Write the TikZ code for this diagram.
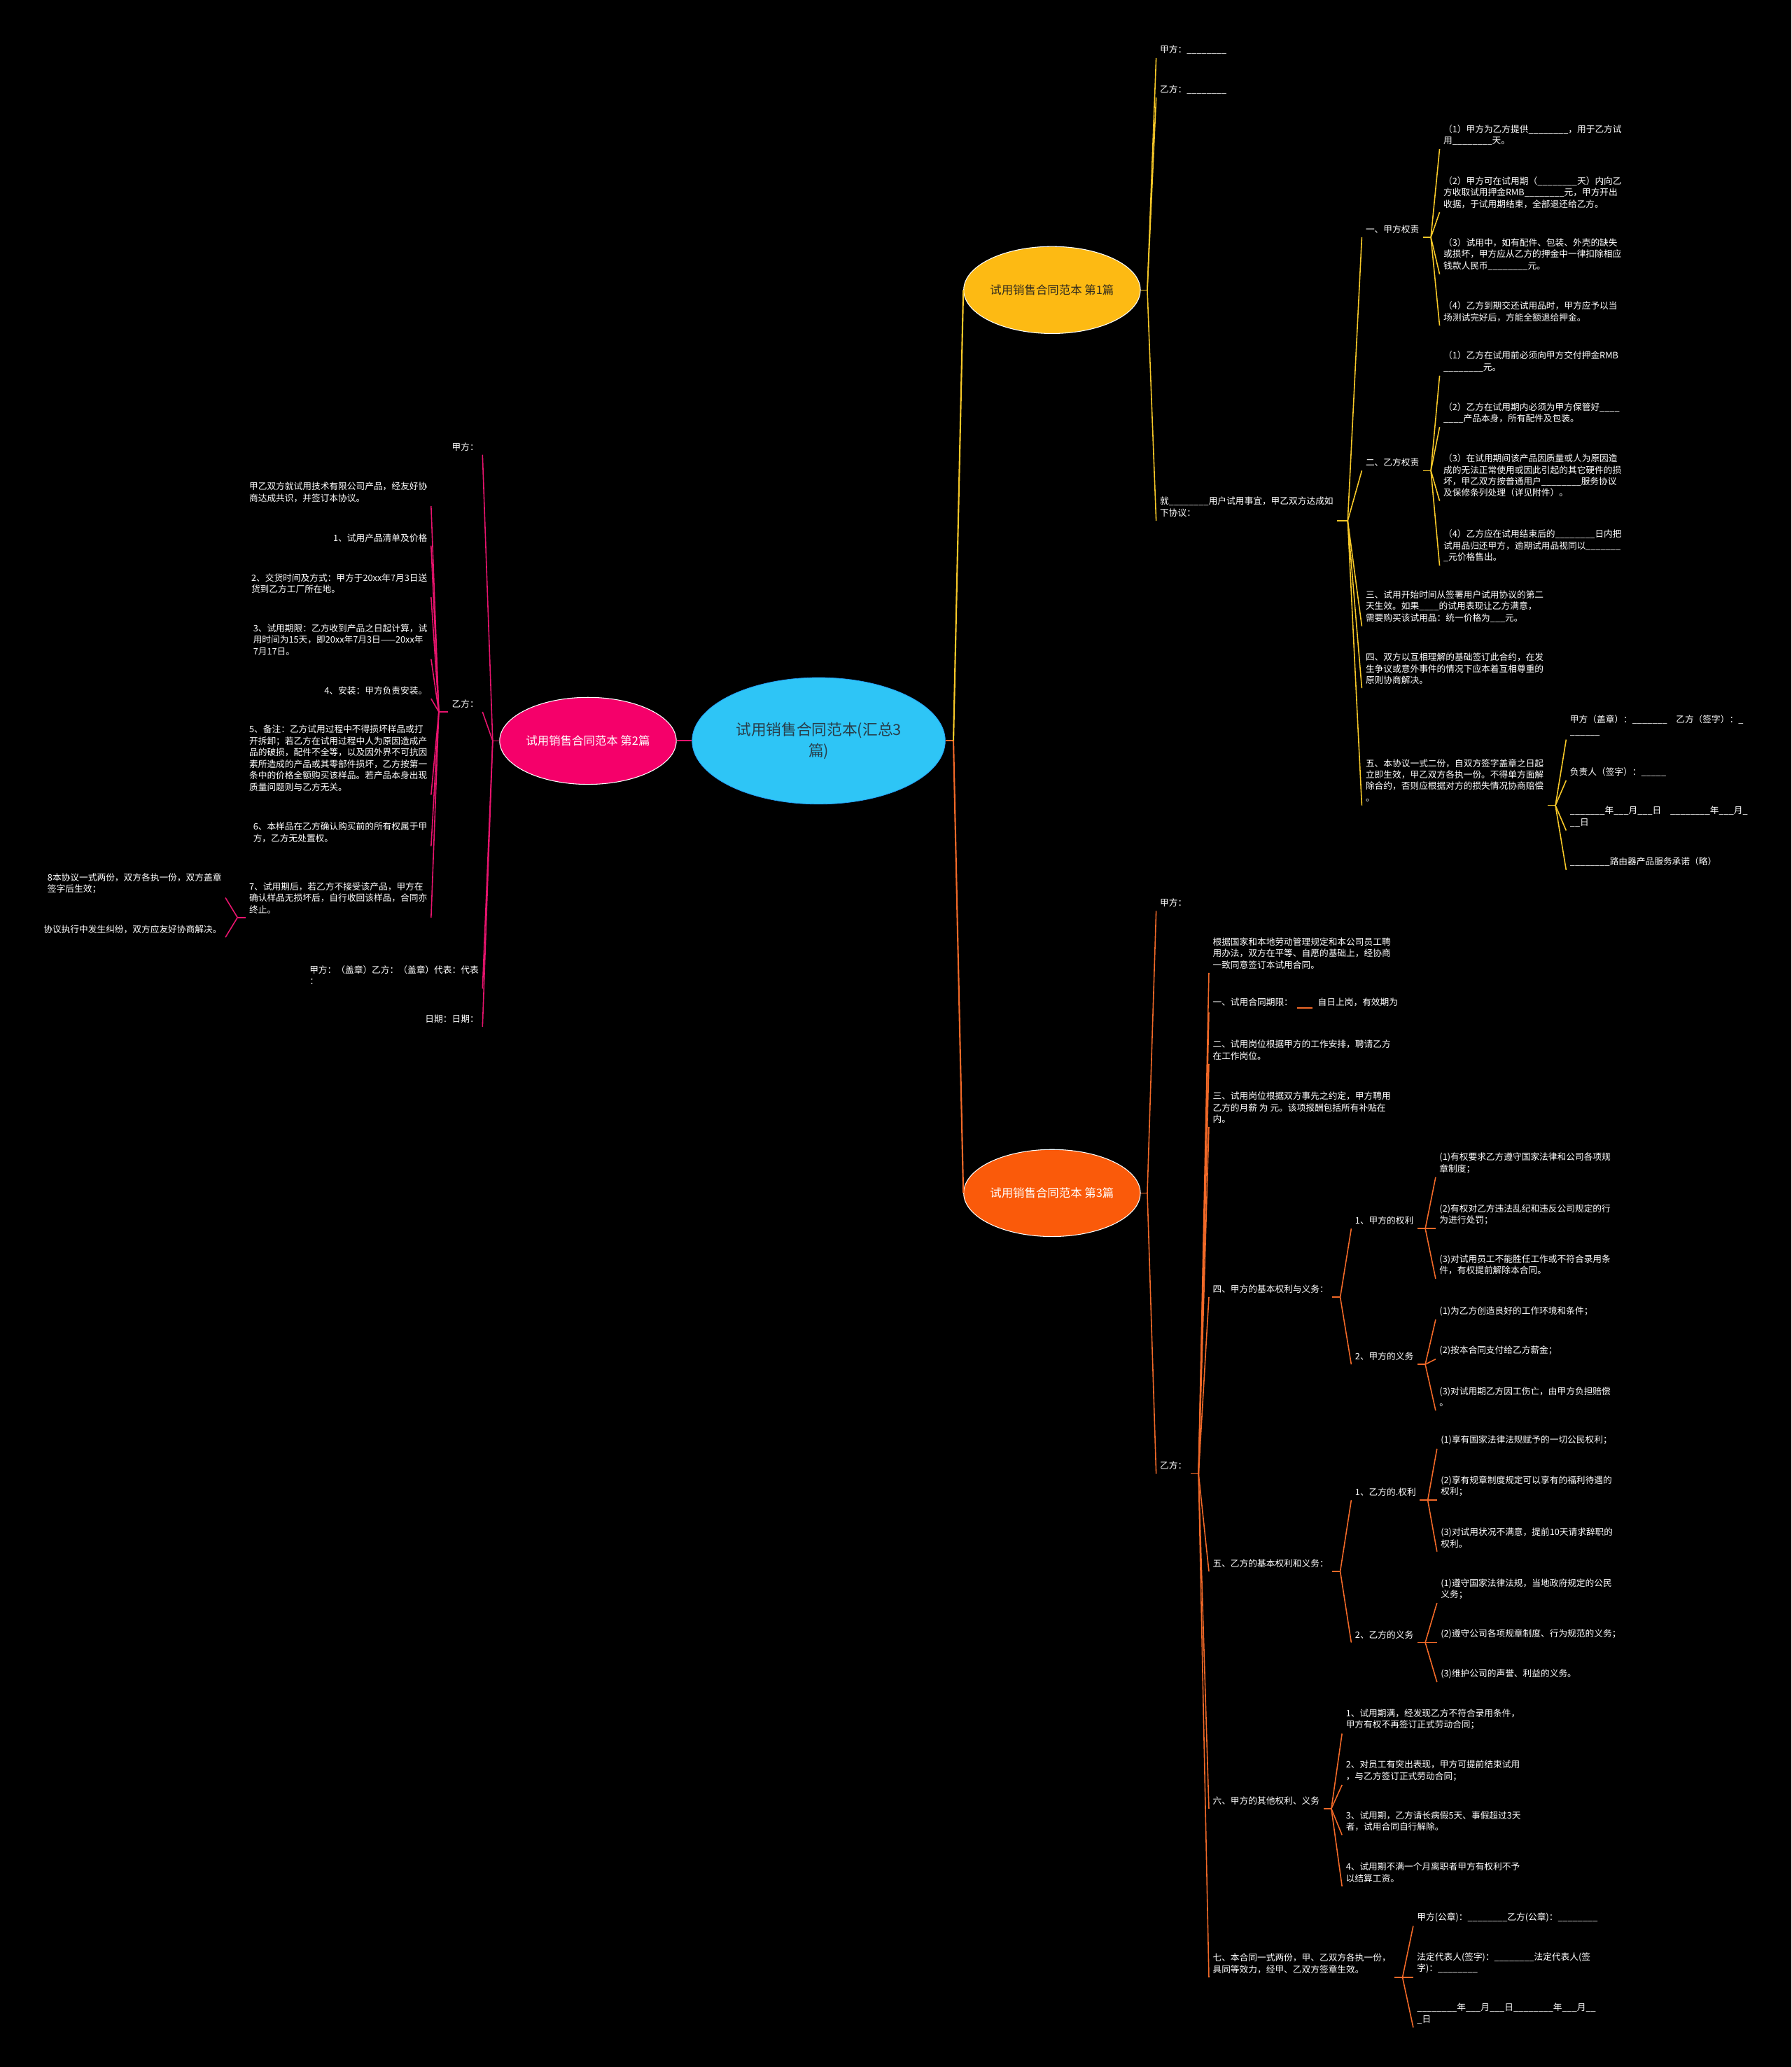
\documentclass[tikz,border=0pt]{standalone}
\usepackage{fontspec}
\setmainfont{Noto Sans CJK SC}
\usepackage{xcolor}
\usetikzlibrary{shapes.geometric, positioning}

\definecolor{RootBlue}{RGB}{46,197,246}
\definecolor{RootText}{RGB}{40,62,74}
\definecolor{BrYellow}{RGB}{253,186,19}
\definecolor{BrPink}{RGB}{245,0,106}
\definecolor{BrOrange}{RGB}{250,90,10}
\definecolor{LnYellow}{RGB}{247,200,40}
\definecolor{LnPink}{RGB}{232,20,110}
\definecolor{LnOrange}{RGB}{242,105,40}
\definecolor{TopicDark}{RGB}{50,44,30}

\newcommand{\blk}[1]{\foreach \k in {1,...,#1}{\_}}

\tikzset{
  leaf/.style={text=white, font=\fontsize{9.6}{12.4}\selectfont, align=left,
               inner xsep=4pt, inner ysep=4pt},
  leafR/.style={leaf, anchor=south west},
  leafL/.style={leaf, anchor=south east},
  topic/.style={ellipse, minimum width=6.7cm, minimum height=3.3cm, draw=white!85,
                line width=0.8pt, font=\fontsize{12.4}{15}\selectfont, align=center, inner sep=0pt},
  root/.style={ellipse, minimum width=9.6cm, minimum height=4.8cm, fill=RootBlue,
               draw=RootBlue!80!blue, line width=0.6pt, text=RootText,
               font=\fontsize{16.4}{22.7}\selectfont, align=center, inner sep=0pt},
  lnY/.style={draw=LnYellow, line width=1.2pt},
  lnP/.style={draw=LnPink, line width=1.2pt},
  lnO/.style={draw=LnOrange, line width=1.2pt}
}

\begin{document}
\begin{tikzpicture}[x=0.05cm, y=-0.05cm]
  \useasboundingbox (0,0) rectangle (1359,1568);
  \fill[black] (0,0) rectangle (1359,1568);

  % centre and the three contracts
  \node[root] (root) at (621,562) {试用销售合同范本(汇总3\\篇)};
  \node[topic, fill=BrYellow, text=TopicDark] (br1) at (798,220) {试用销售合同范本 第1篇};
  \node[topic, fill=BrPink, text=white] (br2) at (446,562) {试用销售合同范本 第2篇};
  \node[topic, fill=BrOrange, text=white] (br3) at (798,905) {试用销售合同范本 第3篇};

  \draw[lnP, line width=1.6pt] (root.west) -- (br2.east);
  \draw[lnO, line width=1.6pt] (root.east) -- ++(6,0) coordinate (rootf);
  \draw[lnY, line width=1.6pt] (rootf) -- (br1.west);
  \draw[lnO, line width=1.6pt] (rootf) -- (br3.west);

  % --- 第1篇
  \node[leafR] (a1) at (877,44) {甲方：\blk{8}};
  \node[leafR] (a2) at (877,74) {乙方：\blk{8}};
  \node[leafR] (a3) at (877,395) {就\blk{8}用户试用事宜，甲乙双方达成如\\下协议：};

  \node[leafR] (b1) at (1033,180) {一、甲方权责};
  \node[leafR] (c1) at (1092,113) {（1）甲方为乙方提供\blk{8}，用于乙方试\\用\blk{8}天。};
  \node[leafR] (c2) at (1092,161) {（2）甲方可在试用期（\blk{8}天）内向乙\\方收取试用押金RMB\blk{8}元，甲方开出\\收据，于试用期结束，全部退还给乙方。};
  \node[leafR] (c3) at (1092,208) {（3）试用中，如有配件、包装、外壳的缺失\\或损坏，甲方应从乙方的押金中一律扣除相应\\钱款人民币\blk{8}元。};
  \node[leafR] (c4) at (1092,247) {（4）乙方到期交还试用品时，甲方应予以当\\场测试完好后，方能全额退给押金。};

  \node[leafR] (b2) at (1033,357) {二、乙方权责};
  \node[leafR] (d1) at (1092,285) {（1）乙方在试用前必须向甲方交付押金RMB\\\blk{8}元。};
  \node[leafR] (d2) at (1092,324) {（2）乙方在试用期内必须为甲方保管好\blk{4}\\\blk{4}产品本身，所有配件及包装。};
  \node[leafR] (d3) at (1092,380) {（3）在试用期间该产品因质量或人为原因造\\成的无法正常使用或因此引起的其它硬件的损\\坏，甲乙双方按普通用户\blk{8}服务协议\\及保修条列处理（详见附件）。};
  \node[leafR] (d4) at (1092,429) {（4）乙方应在试用结束后的\blk{8}日内把\\试用品归还甲方，逾期试用品视同以\blk{7}\\\blk{1}元价格售出。};

  \node[leafR] (b3) at (1033,475) {三、试用开始时间从签署用户试用协议的第二\\天生效。如果\blk{4}的试用表现让乙方满意，\\需要购买该试用品：统一价格为\blk{3}元。};
  \node[leafR] (b4) at (1033,522) {四、双方以互相理解的基础签订此合约，在发\\生争议或意外事件的情况下应本着互相尊重的\\原则协商解决。};
  \node[leafR] (b5) at (1033,611) {五、本协议一式二份，自双方签字盖章之日起\\立即生效，甲乙双方各执一份。不得单方面解\\除合约，否则应根据对方的损失情况协商赔偿\\。};
  \node[leafR] (e1) at (1188,561) {甲方（盖章）：\blk{7}\quad 乙方（签字）：\blk{1}\\\blk{6}};
  \node[leafR] (e2) at (1188,592) {负责人（签字）：\blk{5}};
  \node[leafR] (e3) at (1188,630) {\blk{7}年\blk{3}月\blk{3}日\quad\blk{8}年\blk{3}月\blk{1}\\\blk{2}日};
  \node[leafR] (e4) at (1188,660) {\blk{8}路由器产品服务承诺（略）};

  \draw[lnY] (br1.east) -- ++(5,0) coordinate (br1f);
  \foreach \n in {a1,a2,a3} \draw[lnY] (br1f) -- (\n.south west);
  \draw[lnY] (a3.south east) -- ++(8,0) coordinate (a3f);
  \foreach \n in {b1,b2,b3,b4,b5} \draw[lnY] (a3f) -- (\n.south west);
  \draw[lnY] (b1.south east) -- ++(6,0) coordinate (b1f);
  \foreach \n in {c1,c2,c3,c4} \draw[lnY] (b1f) -- (\n.south west);
  \draw[lnY] (b2.south east) -- ++(6,0) coordinate (b2f);
  \foreach \n in {d1,d2,d3,d4} \draw[lnY] (b2f) -- (\n.south west);
  \draw[lnY] (b5.south east) -- ++(6,0) coordinate (b5f);
  \foreach \n in {e1,e2,e3,e4} \draw[lnY] (b5f) -- (\n.south west);

  % --- 第2篇
  \node[leafL] (p1) at (366,345) {甲方：};
  \node[leafL] (p2) at (366,540) {乙方：};
  \node[leafL] (p3) at (366,750) {甲方：（盖章）乙方：（盖章）代表：代表\\：};
  \node[leafL] (p4) at (366,779) {日期：日期：};

  \node[leafL] (q1) at (327,384) {甲乙双方就试用技术有限公司产品，经友好协\\商达成共识，并签订本协议。};
  \node[leafL] (q2) at (327,414) {1、试用产品清单及价格};
  \node[leafL] (q3) at (327,453) {2、交货时间及方式：甲方于20xx年7月3日送\\货到乙方工厂所在地。};
  \node[leafL] (q4) at (327,500) {3、试用期限：乙方收到产品之日起计算，试\\用时间为15天，即20xx年7月3日——20xx年\\7月17日。};
  \node[leafL] (q5) at (327,530) {4、安装：甲方负责安装。};
  \node[leafL] (q6) at (327,603) {5、备注：乙方试用过程中不得损坏样品或打\\开拆卸；若乙方在试用过程中人为原因造成产\\品的破损，配件不全等，以及因外界不可抗因\\素所造成的产品或其零部件损坏，乙方按第一\\条中的价格全额购买该样品。若产品本身出现\\质量问题则与乙方无关。};
  \node[leafL] (q7) at (327,642) {6、本样品在乙方确认购买前的所有权属于甲\\方，乙方无处置权。};
  \node[leafL] (q8) at (327,696) {7、试用期后，若乙方不接受该产品，甲方在\\确认样品无损坏后，自行收回该样品，合同亦\\终止。};
  \node[leafL] (r1) at (171,681) {8本协议一式两份，双方各执一份，双方盖章\\签字后生效；};
  \node[leafL] (r2) at (171,711) {协议执行中发生纠纷，双方应友好协商解决。};

  \draw[lnP] (br2.west) -- ++(-5,0) coordinate (br2f);
  \foreach \n in {p1,p2,p3,p4} \draw[lnP] (br2f) -- (\n.south east);
  \draw[lnP] (p2.south west) -- ++(-7,0) coordinate (p2f);
  \foreach \n in {q1,q2,q3,q4,q5,q6,q7,q8} \draw[lnP] (p2f) -- (\n.south east);
  \draw[lnP] (q8.south west) -- ++(-6,0) coordinate (q8f);
  \foreach \n in {r1,r2} \draw[lnP] (q8f) -- (\n.south east);

  % --- 第3篇
  \node[leafR] (f1) at (877,691) {甲方：};
  \node[leafR] (f2) at (877,1118) {乙方：};

  \node[leafR] (g1) at (917,738) {根据国家和本地劳动管理规定和本公司员工聘\\用办法，双方在平等、自愿的基础上，经协商\\一致同意签订本试用合同。};
  \node[leafR] (g2) at (917,768) {一、试用合同期限：\hspace{0.15cm}\raisebox{-3.5pt}{\textcolor{LnOrange}{\rule{0.6cm}{1.2pt}}}\hspace{0.2cm}自日上岗，有效期为};
  \node[leafR] (g3) at (917,807) {二、试用岗位根据甲方的工作安排，聘请乙方\\在工作岗位。};
  \node[leafR] (g4) at (917,855) {三、试用岗位根据双方事先之约定，甲方聘用\\乙方的月薪 为 元。该项报酬包括所有补贴在\\内。};
  \node[leafR] (g5) at (917,984) {四、甲方的基本权利与义务：};
  \node[leafR] (g6) at (917,1192) {五、乙方的基本权利和义务：};
  \node[leafR] (g7) at (917,1372) {六、甲方的其他权利、义务};
  \node[leafR] (g8) at (917,1500) {七、本合同一式两份，甲、乙双方各执一份，\\具同等效力，经甲、乙双方签章生效。};

  \node[leafR] (h1) at (1025,932) {1、甲方的权利};
  \node[leafR] (i1) at (1089,893) {(1)有权要求乙方遵守国家法律和公司各项规\\章制度；};
  \node[leafR] (i2) at (1089,932) {(2)有权对乙方违法乱纪和违反公司规定的行\\为进行处罚；};
  \node[leafR] (i3) at (1089,970) {(3)对试用员工不能胜任工作或不符合录用条\\件，有权提前解除本合同。};
  \node[leafR] (h2) at (1025,1035) {2、甲方的义务};
  \node[leafR] (j1) at (1089,1001) {(1)为乙方创造良好的工作环境和条件；};
  \node[leafR] (j2) at (1089,1031) {(2)按本合同支付给乙方薪金；};
  \node[leafR] (j3) at (1089,1070) {(3)对试用期乙方因工伤亡，由甲方负担赔偿\\。};

  \node[leafR] (k1) at (1025,1138) {1、乙方的.权利};
  \node[leafR] (l1) at (1090,1099) {(1)享有国家法律法规赋予的一切公民权利；};
  \node[leafR] (l2) at (1090,1138) {(2)享有规章制度规定可以享有的福利待遇的\\权利；};
  \node[leafR] (l3) at (1090,1177) {(3)对试用状况不满意，提前10天请求辞职的\\权利。};
  \node[leafR] (k2) at (1025,1246) {2、乙方的义务};
  \node[leafR] (m1) at (1090,1216) {(1)遵守国家法律法规，当地政府规定的公民\\义务；};
  \node[leafR] (m2) at (1090,1246) {(2)遵守公司各项规章制度、行为规范的义务；};
  \node[leafR] (m3) at (1090,1276) {(3)维护公司的声誉、利益的义务。};

  \node[leafR] (n1) at (1018,1315) {1、试用期满，经发现乙方不符合录用条件，\\甲方有权不再签订正式劳动合同；};
  \node[leafR] (n2) at (1018,1354) {2、对员工有突出表现，甲方可提前结束试用\\，与乙方签订正式劳动合同；};
  \node[leafR] (n3) at (1018,1392) {3、试用期，乙方请长病假5天、事假超过3天\\者，试用合同自行解除。};
  \node[leafR] (n4) at (1018,1431) {4、试用期不满一个月离职者甲方有权利不予\\以结算工资。};

  \node[leafR] (o1) at (1072,1461) {甲方(公章)：\blk{8}乙方(公章)：\blk{8}};
  \node[leafR] (o2) at (1072,1500) {法定代表人(签字)：\blk{8}法定代表人(签\\字)：\blk{8}};
  \node[leafR] (o3) at (1072,1538) {\blk{8}年\blk{3}月\blk{3}日\blk{8}年\blk{3}月\blk{2}\\\blk{1}日};

  \draw[lnO] (br3.east) -- ++(5,0) coordinate (br3f);
  \foreach \n in {f1,f2} \draw[lnO] (br3f) -- (\n.south west);
  \draw[lnO] (f2.south east) -- ++(6,0) coordinate (f2f);
  \foreach \n in {g1,g2,g3,g4,g5,g6,g7,g8} \draw[lnO] (f2f) -- (\n.south west);
  \draw[lnO] (g5.south east) -- ++(6,0) coordinate (g5f);
  \foreach \n in {h1,h2} \draw[lnO] (g5f) -- (\n.south west);
  \draw[lnO] (h1.south east) -- ++(6,0) coordinate (h1f);
  \foreach \n in {i1,i2,i3} \draw[lnO] (h1f) -- (\n.south west);
  \draw[lnO] (h2.south east) -- ++(6,0) coordinate (h2f);
  \foreach \n in {j1,j2,j3} \draw[lnO] (h2f) -- (\n.south west);
  \draw[lnO] (g6.south east) -- ++(6,0) coordinate (g6f);
  \foreach \n in {k1,k2} \draw[lnO] (g6f) -- (\n.south west);
  \draw[lnO] (k1.south east) -- ++(6,0) coordinate (k1f);
  \foreach \n in {l1,l2,l3} \draw[lnO] (k1f) -- (\n.south west);
  \draw[lnO] (k2.south east) -- ++(6,0) coordinate (k2f);
  \foreach \n in {m1,m2,m3} \draw[lnO] (k2f) -- (\n.south west);
  \draw[lnO] (g7.south east) -- ++(6,0) coordinate (g7f);
  \foreach \n in {n1,n2,n3,n4} \draw[lnO] (g7f) -- (\n.south west);
  \draw[lnO] (g8.south east) -- ++(6,0) coordinate (g8f);
  \foreach \n in {o1,o2,o3} \draw[lnO] (g8f) -- (\n.south west);
\end{tikzpicture}
\end{document}
